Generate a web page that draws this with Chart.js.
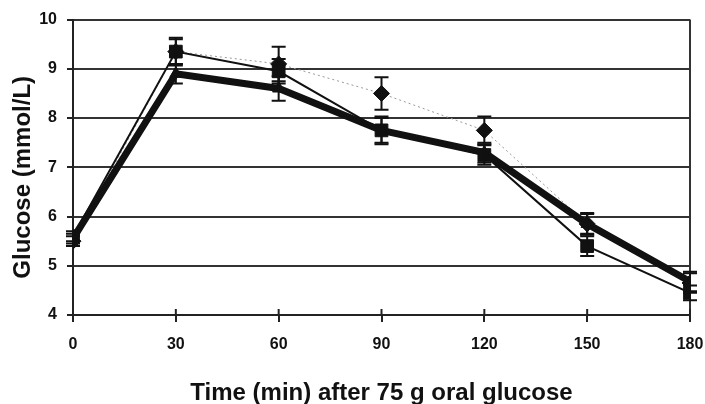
<!DOCTYPE html>
<html>
<head>
<meta charset="utf-8">
<script src="https://cdn.jsdelivr.net/npm/chart.js@4.4.1/dist/chart.umd.min.js"></script>
<style>
  html, body { margin: 0; padding: 0; background: #fff; }
  #wrap { width: 705px; height: 404px; }
</style>
</head>
<body>
<div id="wrap"><canvas id="mycanvas" width="705" height="404"></canvas></div>
<script>
// minutes after glucose load
var times = [0, 30, 60, 90, 120, 150, 180];
// glucose values (mmol/L) and their error bars
var diamond = [5.5, 9.35, 9.1, 8.5, 7.75, 5.85, 4.65];
var diamondErr = [0.1, 0.28, 0.35, 0.33, 0.28, 0.2, 0.2];
var square = [5.6, 9.35, 8.95, 7.75, 7.25, 5.4, 4.45];
var squareErr = [0.1, 0.25, 0.25, 0.28, 0.2, 0.2, 0.15];
var triangle = [5.55, 8.9, 8.6, 7.75, 7.3, 5.85, 4.68];
var triangleErr = [0.1, 0.2, 0.25, 0.25, 0.2, 0.22, 0.2];
var yTicks = [4, 5, 6, 7, 8, 9, 10];

function pts(vals){
	var out = [];
	for (var i in times) out.push({x: times[i], y: vals[i]});
	return out;
}

// vertical error bars with caps, placed through the chart scales
var errorBars = {
	id: 'errorBars',
	afterDatasetsDraw: function(chart){
		var ctx = chart.ctx;
		var xs = chart.scales.x, ys = chart.scales.y;
		ctx.save();
		ctx.strokeStyle = '#111';
		ctx.lineWidth = 2;
		chart.data.datasets.forEach(function(ds){
			if (!ds.err) return;
			ds.data.forEach(function(p, i){
				var px = xs.getPixelForValue(p.x);
				var top = ys.getPixelForValue(p.y + ds.err[i]);
				var bot = ys.getPixelForValue(p.y - ds.err[i]);
				ctx.beginPath();
				ctx.moveTo(px, top); ctx.lineTo(px, bot);
				ctx.moveTo(px - 7, top); ctx.lineTo(px + 7, top);
				ctx.moveTo(px - 7, bot); ctx.lineTo(px + 7, bot);
				ctx.stroke();
			});
		});
		// x tick marks also poke up into the plot
		ctx.strokeStyle = '#222';
		var yb = chart.chartArea.bottom;
		times.forEach(function(t){
			var px = xs.getPixelForValue(t);
			ctx.beginPath();
			ctx.moveTo(px, yb); ctx.lineTo(px, yb - 6);
			ctx.stroke();
		});
		ctx.restore();
	}
};

var chartdata = {
	datasets: [{
		label: 'triangle',
		data: pts(triangle),
		err: triangleErr,
		borderColor: '#111',
		backgroundColor: '#111',
		borderWidth: 7,
		pointStyle: 'triangle',
		pointRadius: 7,
		pointBorderWidth: 1
	}, {
		label: 'square',
		data: pts(square),
		err: squareErr,
		borderColor: '#111',
		backgroundColor: '#111',
		borderWidth: 2,
		pointStyle: 'rect',
		pointRadius: 9,
		pointBorderWidth: 1
	}, {
		label: 'diamond',
		data: pts(diamond),
		err: diamondErr,
		borderColor: '#999',
		backgroundColor: '#111',
		pointBorderColor: '#111',
		borderWidth: 1,
		borderDash: [2, 3],
		pointStyle: 'rectRot',
		pointRadius: 8,
		pointBorderWidth: 1
	}]
};

var tickFont = {family: '"Liberation Sans", Arial, sans-serif', size: 16, weight: 'bold'};
var titleFont = {family: '"Liberation Sans", Arial, sans-serif', size: 24, weight: 'bold'};

var ctx = document.getElementById('mycanvas');
var lineGraph = new Chart(ctx, {
	type: 'line',
	data: chartdata,
	plugins: [errorBars],
	options: {
		responsive: false,
		animation: false,
		layout: {padding: {top: 12, right: 15, left: 0, bottom: 0}},
		plugins: {legend: {display: false}, tooltip: {enabled: false}},
		scales: {
			x: {
				type: 'linear',
				min: 0, max: 180,
				afterBuildTicks: function(axis){ axis.ticks = times.map(function(v){ return {value: v}; }); },
				afterFit: function(axis){ axis.height = 89; axis.paddingLeft = 0; axis.paddingRight = 0; },
				border: {color: '#222', width: 2},
				grid: {
					color: function(c){ return c.tick && c.tick.value === 180 ? '#333' : 'rgba(0,0,0,0)'; },
					lineWidth: 2,
					tickColor: '#222',
					tickLength: 7
				},
				ticks: {color: '#111', font: tickFont, padding: 13, maxRotation: 0},
				title: {display: true, text: 'Time (min) after 75 g oral glucose', color: '#111', font: titleFont, padding: {top: 0, bottom: -4}}
			},
			y: {
				min: 4, max: 10,
				afterBuildTicks: function(axis){ axis.ticks = yTicks.map(function(v){ return {value: v}; }); },
				afterFit: function(axis){ axis.width = 73; },
				border: {color: '#222', width: 2},
				grid: {color: '#333', lineWidth: 2, tickColor: '#222', tickLength: 6},
				ticks: {color: '#111', font: tickFont, padding: 10},
				title: {display: true, text: 'Glucose (mmol/L)   ', color: '#111', font: titleFont, padding: {top: 9, bottom: 0}}
			}
		}
	}
});
</script>
</body>
</html>
